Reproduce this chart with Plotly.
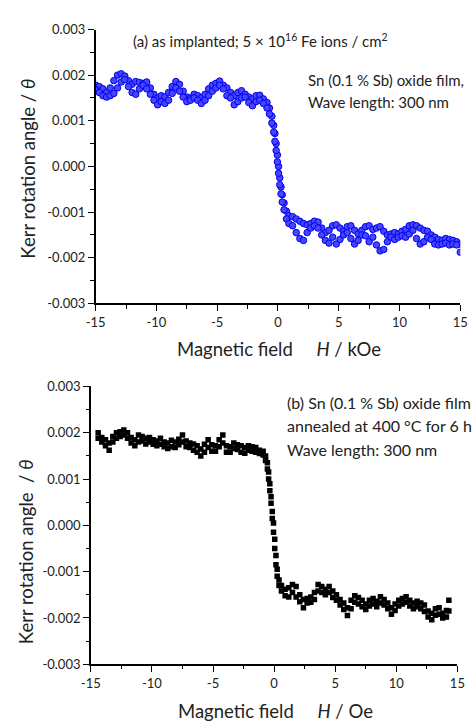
import plotly.graph_objects as go

# ---------------- panel (a): as implanted, field in kOe ----------------
H_a = [-15.0, -14.7, -14.4, -14.1, -13.8, -13.5, -13.2, -12.9, -12.6, -12.3,
       -12.0, -11.7, -11.4, -11.1, -10.8, -10.5, -10.2, -9.9, -9.6, -9.3,
       -9.0, -8.7, -8.4, -8.1, -7.8, -7.5, -7.2, -6.9, -6.6, -6.3,
       -6.0, -5.7, -5.4, -5.1, -4.8, -4.5, -4.2, -3.9, -3.6, -3.3,
       -3.0, -2.7, -2.4, -2.1, -1.8, -1.5, -1.2, -0.9, -0.7, -0.5,
       -0.35, -0.25, -0.15, -0.05, 0.05, 0.15, 0.25, 0.35, 0.5, 0.7,
       0.9, 1.2, 1.5, 1.8, 2.1, 2.4, 2.7, 3.0, 3.3, 3.6,
       3.9, 4.2, 4.5, 4.8, 5.1, 5.4, 5.7, 6.0, 6.3, 6.6,
       6.9, 7.2, 7.5, 7.8, 8.1, 8.4, 8.7, 9.0, 9.3, 9.6,
       9.9, 10.2, 10.5, 10.8, 11.1, 11.4, 11.7, 12.0, 12.3, 12.6,
       12.9, 13.2, 13.5, 13.8, 14.1, 14.4, 14.7, 15.0]

# Kerr rotation, units of 1e-3 (two field sweeps)
kerr_a_sweep1 = [1.78, 1.75, 1.70, 1.62, 1.72, 1.88, 2.00, 2.03, 1.98, 1.88,
                 1.80, 1.86, 1.84, 1.82, 1.85, 1.72, 1.58, 1.50, 1.55, 1.52,
                 1.62, 1.75, 1.86, 1.80, 1.65, 1.52, 1.50, 1.58, 1.55, 1.50,
                 1.58, 1.70, 1.78, 1.82, 1.87, 1.78, 1.72, 1.62, 1.55, 1.62,
                 1.66, 1.58, 1.52, 1.48, 1.55, 1.56, 1.48, 1.40, 1.28, 1.10,
                 0.90, 0.72, 0.50, 0.25, 0.00, -0.25, -0.45, -0.62, -0.80, -0.98,
                 -1.08, -1.10, -1.15, -1.20, -1.25, -1.28, -1.25, -1.20, -1.22, -1.35,
                 -1.45, -1.40, -1.30, -1.28, -1.35, -1.42, -1.32, -1.30, -1.40, -1.48,
                 -1.40, -1.32, -1.30, -1.38, -1.35, -1.32, -1.42, -1.50, -1.48, -1.45,
                 -1.48, -1.42, -1.38, -1.30, -1.28, -1.30, -1.35, -1.40, -1.42, -1.50,
                 -1.55, -1.60, -1.62, -1.58, -1.60, -1.62, -1.65, -1.70]
kerr_a_sweep2 = [1.68, 1.62, 1.55, 1.52, 1.55, 1.60, 1.72, 1.85, 1.90, 1.75,
                 1.62, 1.58, 1.70, 1.78, 1.70, 1.58, 1.45, 1.35, 1.42, 1.38,
                 1.45, 1.60, 1.72, 1.65, 1.52, 1.42, 1.45, 1.50, 1.45, 1.38,
                 1.45, 1.55, 1.65, 1.72, 1.78, 1.70, 1.55, 1.50, 1.35, 1.42,
                 1.50, 1.52, 1.40, 1.33, 1.42, 1.45, 1.38, 1.28, 1.15, 0.95,
                 0.75, 0.55, 0.35, 0.10, -0.15, -0.40, -0.60, -0.78, -0.95, -1.15,
                 -1.25, -1.30, -1.45, -1.58, -1.62, -1.45, -1.35, -1.30, -1.35, -1.50,
                 -1.62, -1.68, -1.55, -1.70, -1.60, -1.50, -1.45, -1.58, -1.70, -1.62,
                 -1.50, -1.52, -1.65, -1.55, -1.72, -1.85, -1.82, -1.65, -1.55, -1.60,
                 -1.55, -1.52, -1.55, -1.48, -1.40, -1.58, -1.70, -1.65, -1.55, -1.60,
                 -1.70, -1.72, -1.70, -1.68, -1.72, -1.70, -1.72, -1.88]

# ---------------- panel (b): annealed, field in Oe ----------------
H_b = [-14.4, -14.1, -13.8, -13.5, -13.2, -12.9, -12.6, -12.3, -12.0, -11.7,
       -11.4, -11.1, -10.8, -10.5, -10.2, -9.9, -9.6, -9.3, -9.0, -8.7,
       -8.4, -8.1, -7.8, -7.5, -7.2, -6.9, -6.6, -6.3, -6.0, -5.7,
       -5.4, -5.1, -4.8, -4.5, -4.2, -3.9, -3.6, -3.3, -3.0, -2.7,
       -2.4, -2.1, -1.8, -1.5, -1.2, -0.9, -0.7, -0.55, -0.45, -0.35,
       -0.25, -0.15, -0.05, 0.05, 0.15, 0.25, 0.4, 0.6, 0.9, 1.2,
       1.5, 1.8, 2.1, 2.4, 2.7, 3.0, 3.3, 3.6, 3.9, 4.2,
       4.5, 4.8, 5.1, 5.4, 5.7, 6.0, 6.3, 6.6, 6.9, 7.2,
       7.5, 7.8, 8.1, 8.4, 8.7, 9.0, 9.3, 9.6, 9.9, 10.2,
       10.5, 10.8, 11.1, 11.4, 11.7, 12.0, 12.3, 12.6, 12.9, 13.2,
       13.5, 13.8, 14.1, 14.3]

kerr_b_sweep1 = [2.00, 1.90, 1.85, 1.78, 1.92, 2.00, 2.02, 2.06, 2.00, 1.90,
                 1.85, 1.95, 1.92, 1.88, 1.90, 1.85, 1.82, 1.88, 1.80, 1.78,
                 1.84, 1.80, 1.86, 1.95, 1.82, 1.78, 1.76, 1.72, 1.65, 1.75,
                 1.85, 1.74, 1.72, 1.85, 1.95, 1.72, 1.70, 1.78, 1.74, 1.72,
                 1.68, 1.72, 1.70, 1.68, 1.62, 1.60, 1.50, 1.35, 1.15, 0.90,
                 0.62, 0.30, 0.05, -0.30, -0.65, -0.95, -1.18, -1.30, -1.38, -1.35,
                 -1.28, -1.32, -1.50, -1.60, -1.58, -1.55, -1.45, -1.28, -1.32, -1.38,
                 -1.32, -1.42, -1.50, -1.60, -1.68, -1.78, -1.62, -1.52, -1.56, -1.62,
                 -1.70, -1.62, -1.58, -1.64, -1.54, -1.60, -1.68, -1.78, -1.70, -1.62,
                 -1.58, -1.54, -1.62, -1.68, -1.64, -1.68, -1.72, -1.85, -1.90, -1.80,
                 -1.78, -1.90, -1.84, -1.62]
kerr_b_sweep2 = [1.88, 1.80, 1.72, 1.62, 1.80, 1.88, 1.92, 1.95, 1.88, 1.78,
                 1.72, 1.80, 1.82, 1.76, 1.80, 1.75, 1.72, 1.75, 1.70, 1.66,
                 1.70, 1.68, 1.74, 1.80, 1.70, 1.68, 1.62, 1.58, 1.50, 1.58,
                 1.68, 1.60, 1.60, 1.70, 1.78, 1.58, 1.58, 1.66, 1.64, 1.58,
                 1.56, 1.62, 1.60, 1.58, 1.55, 1.52, 1.40, 1.22, 1.00, 0.75,
                 0.48, 0.15, -0.15, -0.50, -0.85, -1.10, -1.30, -1.42, -1.52, -1.55,
                 -1.45, -1.55, -1.65, -1.78, -1.68, -1.66, -1.60, -1.42, -1.45, -1.50,
                 -1.45, -1.56, -1.62, -1.72, -1.82, -1.95, -1.80, -1.66, -1.70, -1.76,
                 -1.82, -1.74, -1.70, -1.76, -1.68, -1.72, -1.80, -1.92, -1.84, -1.74,
                 -1.70, -1.66, -1.74, -1.80, -1.76, -1.80, -1.86, -1.98, -2.04, -1.94,
                 -1.92, -2.00, -1.98, -1.85]

x_ticks = [-15, -10, -5, 0, 5, 10, 15]
x_ticktext = ["-15", "-10", "-5", "0", "5", "10", "15"]
y_ticks = [-0.003, -0.002, -0.001, 0.0, 0.001, 0.002, 0.003]
y_ticktext = ["-0.003", "-0.002", "-0.001", "0.000", "0.001", "0.002", "0.003"]

FONT = "Lato"
W, H = 476, 727
GAP = "\u00a0" * 5


def scaled(vals):
    return [v * 1e-3 for v in vals]


fig = go.Figure()

marker_a = dict(symbol="circle", size=6.5, color="#4646ff",
                line=dict(color="#0000ee", width=1))
for ys in (kerr_a_sweep1, kerr_a_sweep2):
    fig.add_trace(go.Scatter(x=H_a, y=scaled(ys), mode="markers",
                             marker=marker_a, xaxis="x", yaxis="y",
                             showlegend=False))

marker_b = dict(symbol="square", size=5.5, color="black", line=dict(width=0))
for ys in (kerr_b_sweep1, kerr_b_sweep2):
    fig.add_trace(go.Scatter(x=H_b, y=scaled(ys), mode="markers",
                             marker=marker_b, xaxis="x2", yaxis="y2",
                             showlegend=False))


def px_x(p):
    return p / W


def px_y(p):
    return 1 - p / H


axis_common = dict(showline=True, linecolor="black", linewidth=1.5,
                   ticks="outside", ticklen=6, tickwidth=1.2, tickcolor="black",
                   showgrid=False, zeroline=False, mirror=False,
                   tickfont=dict(family=FONT, size=13, color="#222"))

xa = dict(axis_common, range=[-15, 15], tickvals=x_ticks, ticktext=x_ticktext,
          minor=dict(ticks="outside", ticklen=3.5, tickwidth=1.2, dtick=2.5,
                     tickcolor="black"))
ya = dict(axis_common, range=[-0.003, 0.003], tickvals=y_ticks,
          ticktext=y_ticktext,
          minor=dict(ticks="outside", ticklen=3.5, tickwidth=1.2, dtick=0.0005,
                     tickcolor="black"))

fig.update_layout(
    width=W, height=H,
    margin=dict(l=0, r=0, t=0, b=0),
    paper_bgcolor="white", plot_bgcolor="white",
    xaxis=dict(xa, domain=[px_x(89), px_x(468)], anchor="y"),
    yaxis=dict(ya, domain=[px_y(302), px_y(22)], anchor="x"),
    xaxis2=dict(xa, domain=[px_x(84), px_x(465)], anchor="y2"),
    yaxis2=dict(ya, domain=[px_y(671), px_y(387)], anchor="x2"),
)

title_font = dict(family=FONT, size=18.5, color="#222")
note_font_a = dict(family=FONT, size=15, color="#222")
note_font_b = dict(family=FONT, size=16, color="#222")

annotations = [
    # axis titles, panel (a)
    dict(text="Magnetic field" + GAP + "<i>H</i> / kOe", x=px_x(280),
         y=px_y(349), xanchor="center", yanchor="middle", font=title_font),
    dict(text="Kerr rotation angle / <i>θ</i>", x=px_x(19), y=px_y(164),
         xanchor="center", yanchor="middle", textangle=-90, font=title_font),
    # axis titles, panel (b)
    dict(text="Magnetic field" + GAP + "<i>H</i> / Oe", x=px_x(276),
         y=px_y(719), xanchor="center", yanchor="middle", font=title_font),
    dict(text="Kerr rotation angle \u00a0/ <i>θ</i>", x=px_x(16), y=px_y(556),
         xanchor="center", yanchor="middle", textangle=-90, font=title_font),
    # notes, panel (a)
    dict(text="(a) as implanted; 5 × 10<sup>16</sup> Fe ions / cm<sup>2</sup>",
         x=px_x(126), y=px_y(33), xanchor="left", yanchor="middle",
         font=note_font_a),
    dict(text="Sn (0.1 % Sb) oxide film,", x=px_x(308), y=px_y(74),
         xanchor="left", yanchor="middle", font=note_font_a),
    dict(text="Wave length: 300 nm", x=px_x(308), y=px_y(96),
         xanchor="left", yanchor="middle", font=note_font_a),
    # notes, panel (b)
    dict(text="(b) Sn (0.1 % Sb) oxide film", x=px_x(286), y=px_y(403),
         xanchor="left", yanchor="middle", font=note_font_b),
    dict(text="annealed at 400 °C for 6 h", x=px_x(286), y=px_y(427),
         xanchor="left", yanchor="middle", font=note_font_b),
    dict(text="Wave length: 300 nm", x=px_x(286), y=px_y(451),
         xanchor="left", yanchor="middle", font=note_font_b),
]
for a in annotations:
    a.update(xref="paper", yref="paper", showarrow=False)
fig.update_layout(annotations=annotations)

fig.write_html("out.html")
